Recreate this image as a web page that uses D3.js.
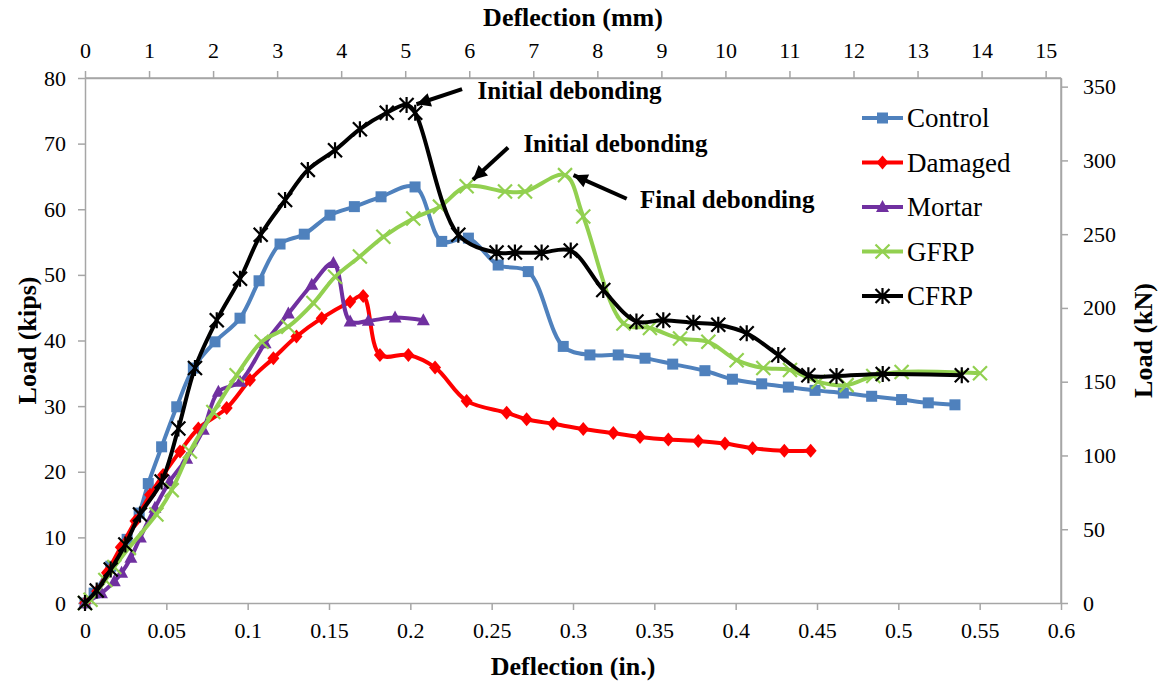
<!DOCTYPE html>
<html>
<head>
<meta charset="utf-8">
<script src="https://cdn.jsdelivr.net/npm/d3@7"></script>
<style>
  body { margin: 0; background: #fff; }
</style>
</head>
<body>
<script>
// Data: deflection (in.) and load (kips)
var controlX = [0, 0.0056, 0.0158, 0.0259, 0.0333, 0.0389, 0.0471, 0.0564, 0.0666, 0.0799, 0.0953, 0.107, 0.1199, 0.1348, 0.1506, 0.1656, 0.182, 0.2029, 0.2193, 0.2357, 0.254, 0.2725, 0.294, 0.3104, 0.3278, 0.3443, 0.3613, 0.3811, 0.398, 0.416, 0.4324, 0.4488, 0.4662, 0.4836, 0.502, 0.5184, 0.5348];
var controlY = [0, 1.5, 5.6, 9.7, 13.7, 18.2, 23.8, 29.9, 35.8, 39.8, 43.4, 49.1, 54.7, 56.2, 59.1, 60.4, 61.9, 63.4, 55.1, 55.6, 51.5, 50.5, 39.1, 37.8, 37.8, 37.3, 36.4, 35.4, 34.1, 33.4, 32.9, 32.4, 32.0, 31.5, 31.0, 30.5, 30.2];

var damagedX = [0, 0.0075, 0.0135, 0.022, 0.031, 0.04, 0.048, 0.0584, 0.0697, 0.0871, 0.1014, 0.1158, 0.130, 0.1455, 0.163, 0.171, 0.1813, 0.1988, 0.2152, 0.2346, 0.2592, 0.2715, 0.2879, 0.3063, 0.3248, 0.3412, 0.3586, 0.377, 0.3934, 0.4104, 0.4299, 0.4461];
var damagedY = [0, 1.8, 4.6, 8.5, 12.5, 16.5, 19.5, 23.1, 26.6, 29.7, 34.0, 37.3, 40.6, 43.4, 45.9, 46.8, 37.8, 37.8, 35.9, 30.8, 29.0, 28.0, 27.3, 26.5, 25.9, 25.3, 24.9, 24.7, 24.3, 23.6, 23.2, 23.2];

var mortarX = [0, 0.0101, 0.018, 0.0225, 0.0282, 0.034, 0.043, 0.052, 0.0625, 0.0727, 0.082, 0.0953, 0.1107, 0.125, 0.1394, 0.1527, 0.163, 0.1742, 0.1906, 0.208];
var mortarY = [0, 1.5, 3.3, 4.6, 6.9, 10.0, 14.5, 18.5, 22.0, 26.4, 32.2, 33.7, 39.6, 44.1, 48.5, 51.8, 42.9, 43.0, 43.5, 43.1];

var gfrpX = [0, 0.0034, 0.0125, 0.018, 0.027, 0.0439, 0.0533, 0.0645, 0.0789, 0.0932, 0.1086, 0.125, 0.1404, 0.1537, 0.169, 0.1834, 0.2018, 0.2182, 0.2346, 0.2582, 0.2705, 0.2951, 0.3063, 0.331, 0.3473, 0.3658, 0.3832, 0.4006, 0.417, 0.4334, 0.4508, 0.4682, 0.4846, 0.502, 0.5502];
var gfrpY = [0, 0.5, 3.5, 5.5, 8.4, 13.5, 17.2, 23.1, 29.1, 34.7, 39.8, 42.1, 45.7, 49.7, 52.8, 55.8, 58.6, 60.4, 63.5, 62.7, 62.7, 65.2, 58.9, 42.6, 41.9, 40.3, 39.8, 37.0, 35.8, 35.5, 33.7, 33.2, 34.6, 35.2, 35.0];

var cfrpX = [0, 0.0072, 0.0158, 0.0248, 0.0338, 0.0471, 0.0574, 0.0676, 0.081, 0.0953, 0.108, 0.123, 0.137, 0.1537, 0.169, 0.1855, 0.1977, 0.203, 0.2295, 0.253, 0.2643, 0.2807, 0.2986, 0.3186, 0.339, 0.3555, 0.374, 0.3893, 0.4068, 0.4262, 0.4447, 0.462, 0.4904, 0.539];
var cfrpY = [0, 1.9, 5.1, 8.9, 13.5, 18.5, 26.6, 35.8, 43.1, 49.4, 56.1, 61.4, 66.0, 69.0, 72.2, 74.7, 75.9, 74.7, 56.1, 53.4, 53.4, 53.4, 53.7, 47.7, 42.9, 43.1, 42.7, 42.4, 41.1, 37.8, 34.7, 34.6, 34.9, 34.7];

var seriesNames = ["Control", "Damaged", "Mortar", "GFRP", "CFRP"];
var seriesColors = ["#4f81bd", "#ff0000", "#7030a0", "#92d050", "#000000"];
var seriesMarkers = ["square", "diamond", "triangle", "cross", "star"];

var xTicksIn = [0, 0.05, 0.1, 0.15, 0.2, 0.25, 0.3, 0.35, 0.4, 0.45, 0.5, 0.55, 0.6];
var xTicksMm = d3.range(0, 16);
var yTicksKips = d3.range(0, 90, 10);
var yTicksKn = d3.range(0, 400, 50);

var notes = [
  {text: "Initial debonding", tx: 0.2413, ty: 76.8, ax: 0.2318, ay: 78.3, bx: 0.2038, by: 76.0},
  {text: "Initial debonding", tx: 0.2695, ty: 68.7, ax: 0.2601, ay: 69.4, bx: 0.2385, by: 64.5},
  {text: "Final debonding", tx: 0.3412, ty: 60.2, ax: 0.3330, ay: 61.6, bx: 0.3003, by: 65.2}
];

var W = 1159, H = 683;
var margin = {top: 78, right: 98, bottom: 80, left: 85},
  width = W - margin.left - margin.right,
  height = H - margin.top - margin.bottom;

var svg = d3.select("body").append("svg")
  .attr("width", W)
  .attr("height", H);

var g = svg.append("g")
  .attr("transform", "translate(" + margin.left + "," + margin.top + ")");

var x = d3.scaleLinear().domain([0, 0.6]).range([0, width]);
var xmm = d3.scaleLinear().domain([0, 0.6 * 25.4]).range([0, width]);
var y = d3.scaleLinear().domain([0, 80]).range([height, 0]);
var ykn = d3.scaleLinear().domain([0, 80 * 4.44822]).range([height, 0]);

var axisColor = "#a6a6a6";
var serif = "'Liberation Serif', 'Times New Roman', Times, serif";

function styleAxis(sel) {
  sel.attr("font-family", serif).attr("font-size", 22);
  sel.select(".domain").attr("stroke", axisColor).attr("stroke-width", 1.5);
  sel.selectAll(".tick line").attr("stroke", axisColor).attr("stroke-width", 1.5);
  sel.selectAll(".tick text").attr("fill", "#000");
}

// bottom axis (in.)
g.append("g")
  .attr("transform", "translate(0," + height + ")")
  .call(d3.axisBottom(x).tickValues(xTicksIn).tickFormat(function (d) { return d3.format("~g")(d); })
    .tickSizeInner(7).tickSizeOuter(0).tickPadding(12))
  .call(styleAxis);

// top axis (mm)
g.append("g")
  .call(d3.axisTop(xmm).tickValues(xTicksMm).tickFormat(d3.format("d"))
    .tickSizeInner(7).tickSizeOuter(0).tickPadding(13))
  .call(styleAxis);

// left axis (kips)
g.append("g")
  .call(d3.axisLeft(y).tickValues(yTicksKips).tickSizeInner(7).tickSizeOuter(0).tickPadding(12))
  .call(styleAxis);

// right axis (kN)
g.append("g")
  .attr("transform", "translate(" + width + ",0)")
  .call(d3.axisRight(ykn).tickValues(yTicksKn).tickSizeInner(7).tickSizeOuter(0).tickPadding(15))
  .call(styleAxis);

// frame edges at top and right
g.append("line").attr("x1", 0).attr("x2", width).attr("y1", 0).attr("y2", 0)
  .attr("stroke", axisColor).attr("stroke-width", 1.5);
g.append("line").attr("x1", width).attr("x2", width).attr("y1", 0).attr("y2", height)
  .attr("stroke", axisColor).attr("stroke-width", 1.5);

// axis titles
function title(sel) {
  return sel.attr("text-anchor", "middle")
    .attr("font-family", serif)
    .attr("font-weight", "bold")
    .attr("font-size", 26);
}

svg.append("text")
  .attr("x", margin.left + width / 2)
  .attr("y", 26)
  .call(title)
  .text("Deflection (mm)");

svg.append("text")
  .attr("x", margin.left + width / 2)
  .attr("y", 675)
  .call(title)
  .text("Deflection (in.)");

svg.append("text")
  .attr("transform", "translate(36," + (margin.top + height / 2) + ") rotate(-90)")
  .call(title)
  .text("Load (kips)");

svg.append("text")
  .attr("transform", "translate(1152," + (margin.top + height / 2) + ") rotate(-90)")
  .call(title)
  .text("Load (kN)");

// markers
function drawMarker(sel, kind, color) {
  if (kind === "square") {
    sel.append("rect").attr("x", -5.5).attr("y", -5.5).attr("width", 11).attr("height", 11)
      .attr("fill", color);
  } else if (kind === "diamond") {
    sel.append("path").attr("d", "M0,-7L6,0L0,7L-6,0Z").attr("fill", color);
  } else if (kind === "triangle") {
    sel.append("path").attr("d", "M0,-7L6.5,5L-6.5,5Z").attr("fill", color);
  } else if (kind === "cross") {
    sel.append("path").attr("d", "M-7,-7L7,7M-7,7L7,-7")
      .attr("stroke", color).attr("stroke-width", 2.2).attr("fill", "none");
  } else if (kind === "star") {
    sel.append("path").attr("d", "M-7,-7L7,7M-7,7L7,-7M0,-8L0,8")
      .attr("stroke", color).attr("stroke-width", 2.2).attr("fill", "none");
  }
}

var allX = [controlX, damagedX, mortarX, gfrpX, cfrpX];
var allY = [controlY, damagedY, mortarY, gfrpY, cfrpY];

var line = d3.line()
  .x(function (d) { return x(d[0]); })
  .y(function (d) { return y(d[1]); })
  .curve(d3.curveCatmullRom.alpha(0.5));

seriesNames.forEach(function (name, i) {
  var pts = allX[i].map(function (v, j) { return [v, allY[i][j]]; });
  var sg = g.append("g").attr("class", "series");
  sg.append("path")
    .datum(pts)
    .attr("fill", "none")
    .attr("stroke", seriesColors[i])
    .attr("stroke-width", 4)
    .attr("stroke-linejoin", "round")
    .attr("d", line);
  sg.selectAll(".pt")
    .data(pts)
    .enter().append("g")
    .attr("transform", function (d) { return "translate(" + x(d[0]) + "," + y(d[1]) + ")"; })
    .each(function () { drawMarker(d3.select(this), seriesMarkers[i], seriesColors[i]); });
});

// annotations
notes.forEach(function (n) {
  svg.append("line")
    .attr("x1", margin.left + x(n.ax)).attr("y1", margin.top + y(n.ay))
    .attr("x2", margin.left + x(n.bx)).attr("y2", margin.top + y(n.by))
    .attr("stroke", "#000").attr("stroke-width", 4);
  var ang = Math.atan2(y(n.by) - y(n.ay), x(n.bx) - x(n.ax));
  var hx = margin.left + x(n.bx), hy = margin.top + y(n.by);
  var L = 14, Wd = 7;
  var p1 = [hx - L * Math.cos(ang) + Wd * Math.sin(ang), hy - L * Math.sin(ang) - Wd * Math.cos(ang)];
  var p2 = [hx - L * Math.cos(ang) - Wd * Math.sin(ang), hy - L * Math.sin(ang) + Wd * Math.cos(ang)];
  svg.append("path")
    .attr("d", "M" + hx + "," + hy + "L" + p1 + "L" + p2 + "Z")
    .attr("fill", "#000");
  svg.append("text")
    .attr("x", margin.left + x(n.tx))
    .attr("y", margin.top + y(n.ty))
    .attr("font-family", serif)
    .attr("font-weight", "bold")
    .attr("font-size", 25)
    .text(n.text);
});

// legend
var legend = svg.append("g").attr("transform", "translate(862,118)");
seriesNames.forEach(function (name, i) {
  var lg = legend.append("g").attr("transform", "translate(0," + (i * 44.5) + ")");
  lg.append("line").attr("x1", 0).attr("x2", 41).attr("y1", 0).attr("y2", 0)
    .attr("stroke", seriesColors[i]).attr("stroke-width", 4);
  var mk = lg.append("g").attr("transform", "translate(20.5,0)");
  drawMarker(mk, seriesMarkers[i], seriesColors[i]);
  lg.append("text")
    .attr("x", 45)
    .attr("y", 9)
    .attr("font-family", serif)
    .attr("font-size", 27)
    .text(name);
});
</script>
</body>
</html>
